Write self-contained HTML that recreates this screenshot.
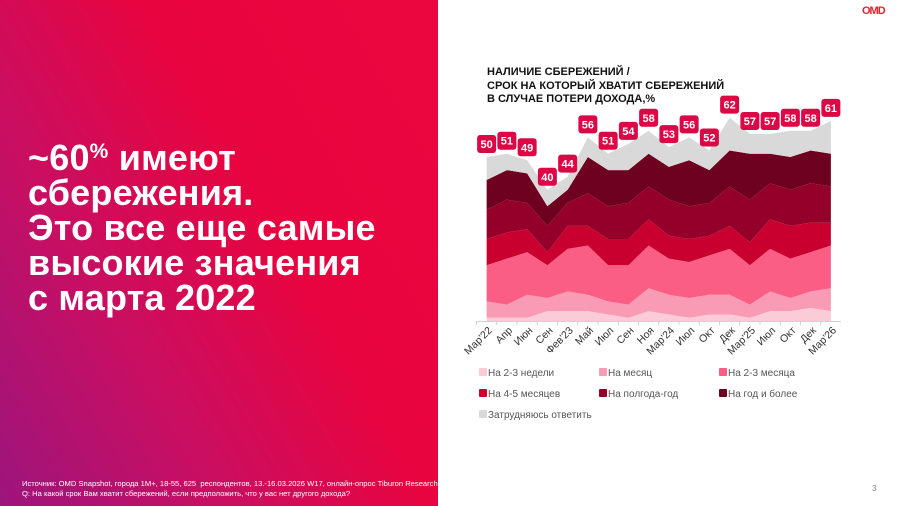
<!DOCTYPE html>
<html><head><meta charset="utf-8">
<style>
*{margin:0;padding:0;box-sizing:border-box}
body{width:900px;height:506px;overflow:hidden;background:#fff;font-family:"Liberation Sans",sans-serif;position:relative}
#left{position:absolute;left:0;top:0;width:438px;height:506px;background:linear-gradient(60deg,#9c157c 0%,#c80f62 30%,#e8043f 60%,#ec0640 100%)}
#headline{position:absolute;left:28px;top:140px;color:#fff;font-weight:bold;font-size:36px;line-height:35px;letter-spacing:0.2px}
#headline sup{font-size:21px;vertical-align:12px;line-height:0}
#source{position:absolute;left:22px;top:479px;color:#fff;font-size:7.6px;line-height:10px}
#title{position:absolute;left:487px;top:66px;font-size:11px;font-weight:bold;line-height:13.5px;color:#111}
#logo{position:absolute;left:862px;top:5px;color:#e8202a;font-weight:bold;font-size:11px;letter-spacing:-1px}
#pagenum{position:absolute;left:872px;top:484px;font-size:8px;color:#888}
</style></head><body>
<div id="left"></div>
<div id="headline">~60<sup>%</sup> имеют<br>сбережения.<br>Это все еще самые<br>высокие значения<br>с марта 2022</div>
<div id="source">Источник: OMD Snapshot, города 1M+, 18-55, 625&nbsp; респондентов, 13.-16.03.2026 W17, онлайн-опрос Tiburon Research<br>Q: На какой срок Вам хватит сбережений, если предположить, что у вас нет другого дохода?</div>
<div id="logo">OMD</div>
<div id="pagenum">3</div>
<div id="title">НАЛИЧИЕ СБЕРЕЖЕНИЙ /<br>СРОК НА КОТОРЫЙ ХВАТИТ СБЕРЕЖЕНИЙ<br>В СЛУЧАЕ ПОТЕРИ ДОХОДА,%</div>
<svg id="chart" width="900" height="506" style="position:absolute;left:0;top:0"></svg>
<script>
const categories=["Мар'22","Апр","Июн","Сен","Фев'23","Май","Июл","Сен","Ноя","Мар'24","Июл","Окт","Дек","Мар'25","Июл","Окт","Дек","Мар'26"];
const seriesNames=["На 2-3 недели","На месяц","На 2-3 месяца","На 4-5 месяцев","На полгода-год","На год и более","Затрудняюсь ответить"];
const s1=[1,1,1,3,3,3,2,1,3,2,1,2,2,1,3,3,4,3];
const s2=[5,4,7,4,6,5,4,4,7,6,6,6,6,4,6,4,5,7];
const s3=[11,14,13,10,13,15,11,12,13,11,11,12,14,12,13,12,12,13];
const s4=[8,8,7,4,7,6,8,8,8,7,7,6,7,7,9,10,9,7];
const s5=[9,10,8,8,7,10,10,11,10,11,10,10,12,13,11,11,12,11];
const s6=[9,9,9,6,4,11,11,10,10,10,14,10,11,14,9,10,10,10];
const s7=[7,5,4,5,4,6,5,8,7,6,7,6,10,6,6,8,6,10];
const totals=[50,51,49,40,44,56,51,54,58,53,56,52,62,57,57,58,58,61];
const colors=["#fccbd8","#f99bb4","#fb5e85","#c9002f","#95002b","#6e0020","#d9d9d9"];
const series=[s1,s2,s3,s4,s5,s6,s7];
const svg=document.getElementById('chart');
const NS='http://www.w3.org/2000/svg';
const x0=476.5,step=20.25,base=321,k=3.28;
function xs(i){return x0+step*(i+0.5);}
function ys(v){return base-v*k;}
function mk(t,a){const e=document.createElementNS(NS,t);for(const q in a)e.setAttribute(q,a[q]);svg.appendChild(e);return e;}
let cum=categories.map(()=>0);
series.forEach((s,si)=>{
  const lower=cum.slice();
  cum=cum.map((c,i)=>c+s[i]);
  let d='';
  cum.forEach((c,i)=>{d+=(i?'L':'M')+xs(i)+','+ys(c);});
  for(let i=categories.length-1;i>=0;i--)d+='L'+xs(i)+','+ys(lower[i]);
  const p=mk('path',{d:d+'Z',fill:colors[si]});
  
  
});
const ax=mk('line',{x1:x0,x2:x0+step*categories.length,y1:base+0.5,y2:base+0.5,stroke:'#d0d0d0','stroke-width':1});


categories.forEach((c,i)=>{
  const tk=mk('line',{x1:x0+step*i,x2:x0+step*i,y1:base,y2:base+4,stroke:'#d0d0d0'});
  
  
  const t=mk('text',{x:0,y:0,'font-size':10.5,fill:'#333','text-anchor':'end',transform:'translate('+(xs(i)+6)+','+(base+10)+') rotate(-45)','font-family':'Liberation Sans, sans-serif'});
  t.textContent=c;
  
  
  const by=ys(totals[i])-13;
  const r=mk('rect',{x:xs(i)-9.5,y:by-9,width:19,height:18,rx:3,fill:'#dc0846'});
  
  
  const bt=mk('text',{x:xs(i),y:by+4,'font-size':11,'font-weight':'bold',fill:'#fff','text-anchor':'middle','font-family':'Liberation Sans, sans-serif'});
  bt.textContent=totals[i];
  
  
});
const lx=[480,600,720],ly=[372,393,414];
seriesNames.forEach((n,i)=>{
  const X=lx[i%3],Y=ly[Math.floor(i/3)];
  const sq=mk('rect',{x:X-1,y:Y-4,width:8,height:8,rx:1,fill:colors[i]});
  
  
  const t=mk('text',{x:X+8,y:Y+4,'font-size':10,fill:'#555','font-family':'Liberation Sans, sans-serif'});
  t.textContent=n;
  
  
});
</script>
</body></html>
